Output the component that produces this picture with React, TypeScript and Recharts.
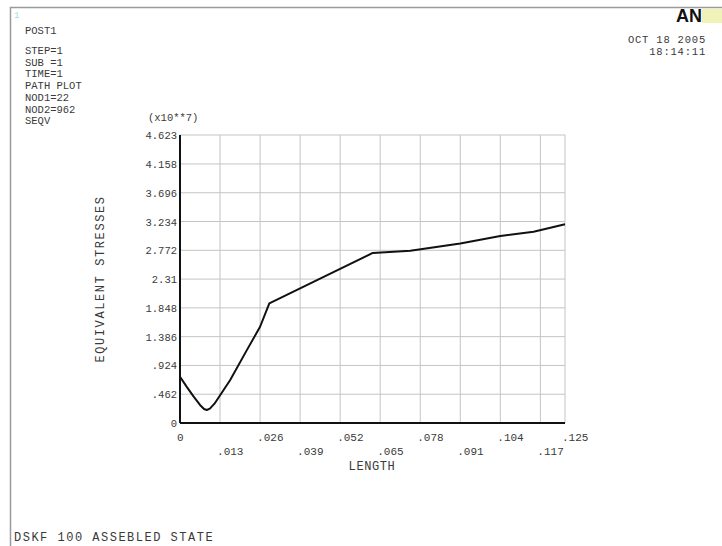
import React from "react";
import { LineChart, Line, XAxis, YAxis, CartesianGrid } from "recharts";

// Path plot of equivalent stress (x10**7) along the path length
const lengths = [0, 0.0022, 0.0045, 0.0065, 0.0078, 0.0087, 0.0097, 0.0112, 0.0163, 0.0217, 0.026, 0.029, 0.0626, 0.0748, 0.091, 0.104, 0.1148, 0.125];
const stresses = [0.743, 0.58, 0.42, 0.29, 0.225, 0.209, 0.23, 0.31, 0.69, 1.17, 1.545, 1.92, 2.73, 2.764, 2.88, 3.0, 3.07, 3.19];

const xTicks = [0, 0.013, 0.026, 0.039, 0.052, 0.065, 0.078, 0.091, 0.104, 0.117, 0.125];
const yTicks = [0, 0.462, 0.924, 1.386, 1.848, 2.31, 2.772, 3.234, 3.696, 4.158, 4.623];

const infoLines = ["STEP=1", "SUB =1", "TIME=1", "PATH PLOT", "NOD1=22", "NOD2=962", "SEQV"];

const data = lengths.map((len, i) => ({ len, seqv: stresses[i] }));

const MONO = "'Liberation Mono', 'Courier New', monospace";
const TEXT = "#3a3a3a";

const fmt = (v: number) => String(v).replace(/^0\./, ".");

const XTick = (props: any) => {
  const { x, payload, index } = props;
  const lower = index % 2 === 1;
  return (
    <text x={x - 3} y={lower ? 455 : 441} fontFamily={MONO} fontSize={11} fill={TEXT} textAnchor="start">
      {fmt(payload.value)}
    </text>
  );
};

const YTick = (props: any) => {
  const { y, payload } = props;
  return (
    <text x={177} y={y + 4} fontFamily={MONO} fontSize={10.5} fill={TEXT} textAnchor="end">
      {fmt(payload.value)}
    </text>
  );
};

export default function App() {
  return (
    <div style={{ position: "absolute", left: 0, top: 0, width: 722, height: 546, background: "#fff" }}>
      <LineChart
        width={722}
        height={546}
        data={data}
        margin={{ top: 135, right: 157, bottom: 63, left: 0 }}
      >
        <CartesianGrid stroke="#c4c4c4" strokeWidth={1} />
        <XAxis
          dataKey="len"
          type="number"
          domain={[0, 0.125]}
          ticks={xTicks}
          tick={<XTick />}
          tickLine={false}
          axisLine={{ stroke: "#111", strokeWidth: 2 }}
          height={60}
          interval={0}
        />
        <YAxis
          type="number"
          domain={[0, 4.623]}
          ticks={yTicks}
          tick={<YTick />}
          tickLine={false}
          axisLine={{ stroke: "#111", strokeWidth: 2 }}
          width={180}
          interval={0}
        />
        <Line
          type="linear"
          dataKey="seqv"
          stroke="#111"
          strokeWidth={2}
          strokeLinejoin="round"
          dot={false}
          isAnimationActive={false}
        />
      </LineChart>
      <svg
        width={722}
        height={546}
        style={{ position: "absolute", left: 0, top: 0, pointerEvents: "none" }}
      >
        <line x1={10} y1={7.5} x2={722} y2={7.5} stroke="#9a9a9a" strokeWidth={1.5} />
        <line x1={10.5} y1={7} x2={10.5} y2={546} stroke="#9a9a9a" strokeWidth={1.5} />
        <text x={14} y={18} fontFamily={MONO} fontSize={9} fill="#9fdede">1</text>
        <text x={25} y={34} fontFamily={MONO} fontSize={10.5} fill={TEXT}>POST1</text>
        {infoLines.map((t, i) => (
          <text key={t} x={25} y={54 + i * 11.7} fontFamily={MONO} fontSize={10.5} fill={TEXT}>
            {t}
          </text>
        ))}
        <text x={148} y={121} fontFamily={MONO} fontSize={10.5} fill={TEXT}>(x10**7)</text>
        <text x={706} y={43} fontFamily={MONO} fontSize={10.5} letterSpacing={0.8} fill={TEXT} textAnchor="end">OCT 18 2005</text>
        <text x={706} y={55} fontFamily={MONO} fontSize={10.5} letterSpacing={0.8} fill={TEXT} textAnchor="end">18:14:11</text>
        <text x={676} y={22} fontFamily="'Liberation Sans', Arial, sans-serif" fontSize={18} fontWeight="bold" fill="#111">AN</text>
        <rect x={702} y={9} width={20} height={14} fill="#f1f2b8" />
        <text
          x={0}
          y={0}
          transform="translate(104 279) rotate(-90)"
          fontFamily={MONO}
          fontSize={12}
          letterSpacing={1.6}
          fill={TEXT}
          textAnchor="middle"
        >
          EQUIVALENT STRESSES
        </text>
        <text x={372} y={470} fontFamily={MONO} fontSize={12} letterSpacing={0.6} fill={TEXT} textAnchor="middle">LENGTH</text>
        <text x={14} y={541} fontFamily={MONO} fontSize={12} letterSpacing={1.5} fill={TEXT}>DSKF 100 ASSEBLED STATE</text>
      </svg>
    </div>
  );
}
